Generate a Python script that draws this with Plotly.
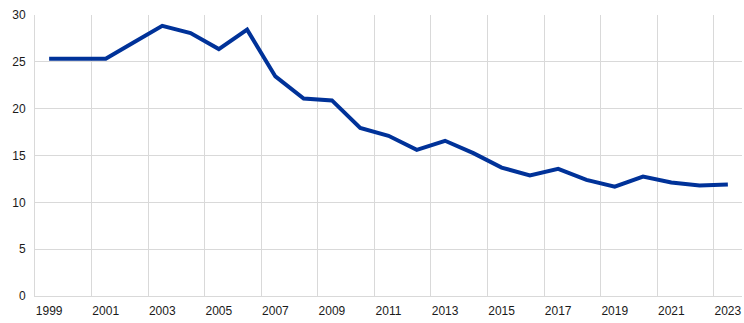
import plotly.graph_objects as go

years = list(range(1999, 2024))
values = [25.33, 25.33, 25.33, 27.1, 28.85, 28.07, 26.36, 28.43, 23.44, 21.09,
          20.88, 17.95, 17.10, 15.60, 16.57, 15.25, 13.71, 12.86, 13.57, 12.40,
          11.68, 12.75, 12.11, 11.79, 11.90]
x_labels = [y for y in years if y % 2 == 1]
y_ticks = [0, 5, 10, 15, 20, 25, 30]

fig = go.Figure()
fig.add_trace(go.Scatter(x=years, y=values, mode="lines",
                         line=dict(color="#003299", width=4),
                         showlegend=False, hoverinfo="skip"))

grid = "#d9d9d9"
fig.update_layout(
    width=744, height=323,
    margin=dict(l=35, r=2, t=15, b=27),
    paper_bgcolor="white", plot_bgcolor="white",
    font=dict(family="Liberation Sans, Arial, sans-serif", size=12, color="#1a1a1a"),
    xaxis=dict(range=[1998.5, 2023.5], tickmode="array", tickvals=x_labels,
               ticktext=[str(v) for v in x_labels], showgrid=False,
               showline=True, linecolor=grid, linewidth=1,
               ticks="outside", ticklen=4, tickcolor="rgba(0,0,0,0)",
               zeroline=False,
               minor=dict(tickmode="linear", tick0=1998.5, dtick=2,
                          showgrid=True, gridcolor=grid, gridwidth=1)),
    yaxis=dict(range=[0, 30], tickmode="array", tickvals=y_ticks,
               showgrid=True, gridcolor=grid, gridwidth=1,
               showline=True, linecolor=grid, linewidth=1,
               ticks="outside", ticklen=6, tickcolor="rgba(0,0,0,0)",
               zeroline=False),
)
fig.write_html("out.html")
